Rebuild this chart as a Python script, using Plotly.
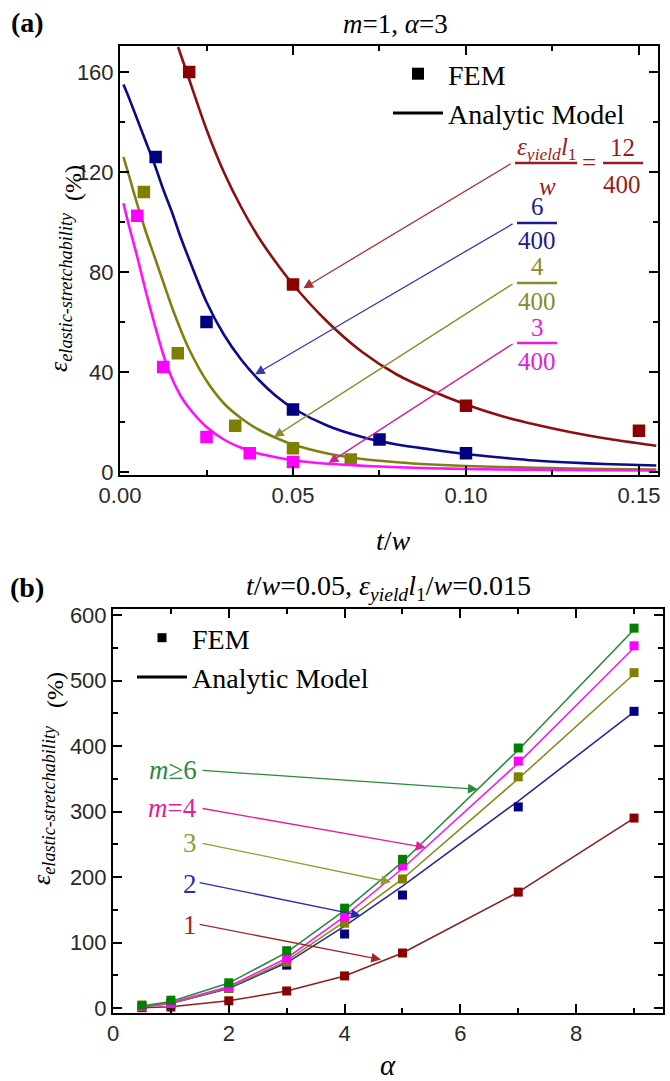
import plotly.graph_objects as go

W, H = 670, 1081

# ---------------- panel (a): stretchability vs t/w (m=1, alpha=3) ----------------
# FEM results for eps_yield*l1/w = 12/400, 6/400, 4/400, 3/400
tw_fem_12 = [0.02, 0.05, 0.10, 0.15]
eps_fem_12 = [160, 75, 26.5, 16.5]
tw_fem_6 = [0.0103, 0.025, 0.05, 0.075, 0.10]
eps_fem_6 = [126, 60, 25, 13, 7.5]
tw_fem_4 = [0.0069, 0.0167, 0.0333, 0.05, 0.0667]
eps_fem_4 = [112, 47.5, 18.5, 9.5, 5]
tw_fem_3 = [0.005, 0.0125, 0.025, 0.0375, 0.05]
eps_fem_3 = [102.5, 42, 14, 7.5, 4]

# analytic model curves
tw_model_12 = [0.0168, 0.02, 0.025, 0.03, 0.035, 0.04, 0.045, 0.05, 0.06, 0.07,
               0.08, 0.09, 0.10, 0.11, 0.12, 0.13, 0.14, 0.155]
eps_model_12 = [170, 157, 137, 120, 106, 94, 84, 75, 60, 48,
                39, 32.5, 27, 22.5, 19, 16, 13.5, 10.5]
tw_model = [0.001, 0.0025, 0.005, 0.0075, 0.01, 0.0125, 0.015, 0.0175, 0.02, 0.025,
            0.03, 0.035, 0.04, 0.045, 0.05, 0.06, 0.07, 0.08, 0.09, 0.10,
            0.11, 0.12, 0.13, 0.14, 0.155]
eps_model_6 = [155, 150, 141, 132, 123, 113, 104, 94, 85, 68,
               55, 45, 37, 30.5, 25.5, 18.5, 14, 11, 9, 7.2,
               5.8, 4.6, 3.8, 3.2, 2.6]
eps_model_4 = [126, 119, 107, 96, 86, 76, 66, 57, 49, 36.5,
               27.5, 21.5, 17, 13.7, 11, 7.4, 5.2, 3.9, 3, 2.4,
               2, 1.7, 1.4, 1.2, 1]
eps_model_3 = [107.5, 99, 86, 72, 59, 47, 37.5, 30.5, 25.5, 18,
               13, 9.7, 7.4, 5.9, 4.7, 3.3, 2.5, 1.9, 1.5, 1.2,
               1, 0.9, 0.8, 0.7, 0.6]

# ---------------- panel (b): stretchability vs alpha ----------------
alpha = [0.5, 1, 2, 3, 4, 5, 7, 9]
fem_m1 = [0.5, 1.5, 11, 26, 49, 84, 177, 290]
fem_m2 = [2, 6, 30, 65.5, 113, 172.5, 307, 453]
fem_m3 = [2, 7, 30, 70, 129.5, 197, 353, 512]
fem_m4 = [3, 8, 33, 76, 139, 217, 377, 553]
fem_m6 = [4.5, 12, 38.5, 87.5, 152.5, 227, 397, 580]
model_m1 = [0.5, 2, 11, 26, 49, 84, 177, 290]
model_m2 = [2, 7, 30, 69, 125, 186, 316, 452]
model_m3 = [2, 7, 31, 72, 132, 197, 350, 510]
model_m4 = [2.5, 8, 33, 76, 140, 213, 374, 550]
model_m6 = [3, 10, 38, 85, 149, 223, 394, 578]

SERIF = "Liberation Serif"
SANS = "Liberation Sans"


def px(x):
    return x / W


def py(y):
    return 1 - y / H


fig = go.Figure()

# panel (a) traces
series_a = [
    (tw_fem_12, eps_fem_12, tw_model_12, eps_model_12, "#8b0000", "#8b1010"),
    (tw_fem_6, eps_fem_6, tw_model, eps_model_6, "#000080", "#0a0a8a"),
    (tw_fem_4, eps_fem_4, tw_model, eps_model_4, "#808000", "#808010"),
    (tw_fem_3, eps_fem_3, tw_model, eps_model_3, "#ff00ff", "#ff10ff"),
]
for xf, yf, xm, ym, mc, lc in series_a:
    fig.add_trace(go.Scatter(x=xm, y=ym, mode="lines", line=dict(color=lc, width=2.6, shape="spline", smoothing=0.8),
                             showlegend=False, xaxis="x", yaxis="y", cliponaxis=True))
    fig.add_trace(go.Scatter(x=xf, y=yf, mode="markers", marker=dict(symbol="square", size=12.5, color=mc),
                             showlegend=False, xaxis="x", yaxis="y"))

# panel (b) traces
series_b = [
    (fem_m1, model_m1, "#8b0000", "#8b2020"),
    (fem_m2, model_m2, "#000080", "#2a2a90"),
    (fem_m3, model_m3, "#808000", "#8a8a20"),
    (fem_m4, model_m4, "#ff00ff", "#f020f0"),
    (fem_m6, model_m6, "#008000", "#2a8a3a"),
]
for yf, ym, mc, lc in series_b:
    fig.add_trace(go.Scatter(x=alpha, y=ym, mode="lines", line=dict(color=lc, width=1.6),
                             showlegend=False, xaxis="x2", yaxis="y2"))
    fig.add_trace(go.Scatter(x=alpha, y=yf, mode="markers", marker=dict(symbol="square", size=9, color=mc),
                             showlegend=False, xaxis="x2", yaxis="y2"))

# legend entries
fig.add_trace(go.Scatter(x=[None], y=[None], mode="markers", name="FEM",
                         marker=dict(symbol="square", size=12, color="black"), legend="legend", xaxis="x", yaxis="y"))
fig.add_trace(go.Scatter(x=[None], y=[None], mode="lines", name="Analytic Model",
                         line=dict(color="black", width=3), legend="legend", xaxis="x", yaxis="y"))
fig.add_trace(go.Scatter(x=[None], y=[None], mode="markers", name="FEM",
                         marker=dict(symbol="square", size=9, color="black"), legend="legend2", xaxis="x2", yaxis="y2"))
fig.add_trace(go.Scatter(x=[None], y=[None], mode="lines", name="Analytic Model",
                         line=dict(color="black", width=3), legend="legend2", xaxis="x2", yaxis="y2"))

axis_common = dict(showline=True, linewidth=2, linecolor="black", mirror="ticks", ticks="inside",
                   ticklen=9, tickwidth=2, tickcolor="black", showgrid=False, zeroline=False,
                   automargin=False, tickfont=dict(family=SANS, size=22, color="#2a2a2a"))
minor_common = dict(ticks="inside", ticklen=5, tickwidth=1.5, tickcolor="black")

fig.update_layout(
    width=W, height=H, margin=dict(l=0, r=0, t=0, b=0, autoexpand=False),
    plot_bgcolor="white", paper_bgcolor="white",
    xaxis=dict(domain=[px(120), px(658)], range=[0, 0.1555], anchor="y", tickvals=[0, 0.05, 0.10, 0.15],
               ticktext=["0.00", "0.05", "0.10", "0.15"], minor=dict(dtick=0.025, tick0=0, **minor_common),
               **axis_common),
    yaxis=dict(domain=[py(475), py(46)], range=[-1.2, 170.4], anchor="x", tickvals=[0, 40, 80, 120, 160],
               minor=dict(dtick=20, tick0=0, **minor_common), **axis_common),
    xaxis2=dict(domain=[px(113), px(663)], range=[0, 9.5], anchor="y2", tickvals=[0, 2, 4, 6, 8],
                minor=dict(dtick=1, tick0=0, **minor_common), **axis_common),
    yaxis2=dict(domain=[py(1013), py(609)], range=[-7.6, 609.2], anchor="x2",
                tickvals=[0, 100, 200, 300, 400, 500, 600],
                minor=dict(dtick=50, tick0=0, **minor_common), **axis_common),
    legend=dict(x=px(388), y=py(49), xanchor="left", yanchor="top", bgcolor="rgba(0,0,0,0)",
                font=dict(family=SERIF, size=28, color="black"), tracegroupgap=0, itemwidth=50),
    legend2=dict(x=px(132), y=py(613), xanchor="left", yanchor="top", bgcolor="rgba(0,0,0,0)",
                 font=dict(family=SERIF, size=28, color="black"), tracegroupgap=0, itemwidth=50),
)

ann = []


def text(x, y, s, size=24, color="black", angle=0, xanchor="center", family=SERIF):
    ann.append(dict(x=px(x), y=py(y), xref="paper", yref="paper", text=s, showarrow=False,
                    font=dict(family=family, size=size, color=color), textangle=angle,
                    xanchor=xanchor, yanchor="middle"))


# panel labels and titles
text(27, 22, "<b>(a)</b>", size=28)
text(395, 24, "<i>m</i>=1, <i>α</i>=3", size=27)
text(27, 587, "<b>(b)</b>", size=28)
text(388, 587, "<i>t</i>/<i>w</i>=0.05, <i>ε</i><sub><i>yield</i></sub><i>l</i><sub>1</sub>/<i>w</i>=0.015", size=28)

# axis titles
text(393, 540, "<i>t</i>/<i>w</i>", size=28)
text(388, 1065, "<i>α</i>", size=29)
text(60, 292, "<i>ε</i><sub><i>elastic-stretchability</i></sub>", size=26, angle=-90)
text(73, 183, "(%)", size=24, angle=-90)
text(43, 805, "<i>ε</i><sub><i>elastic-stretchability</i></sub>", size=26, angle=-90)
text(55, 690, "(%)", size=24, angle=-90)

# fraction labels in panel (a)
RED, BLUE, OLIVE, MAG = "#9b1c1c", "#1c1c8c", "#8a8a2a", "#e020e0"
text(547, 149, "<i>ε</i><sub><i>yield</i></sub><i>l</i><sub>1</sub>", size=25, color=RED)
text(547, 186, "<i>w</i>", size=25, color=RED)
text(589, 162, "=", size=25, color=RED)
text(622, 148, "12", size=25, color=RED)
text(622, 184, "400", size=25, color=RED)
text(537, 206, "6", size=25, color=BLUE)
text(537, 241, "400", size=25, color=BLUE)
text(537, 267, "4", size=25, color=OLIVE)
text(537, 301, "400", size=25, color=OLIVE)
text(537, 327, "3", size=25, color=MAG)
text(537, 362, "400", size=25, color=MAG)

shapes = []
for x0, x1, y, c in [(515, 577, 163, RED), (603, 643, 163, RED), (517, 557, 223, BLUE),
                     (517, 557, 283, OLIVE), (517, 557, 343, MAG)]:
    shapes.append(dict(type="line", xref="paper", yref="paper", x0=px(x0), x1=px(x1), y0=py(y), y1=py(y),
                       line=dict(color=c, width=2.5)))

# arrows in panel (a): (head x, head y, tail x, tail y, colour)
arrows_a = [
    (0.053, 73.5, 0.1133, 123.6, "#a83232"),
    (0.039, 39.0, 0.1139, 99.6, "#3a3aaa"),
    (0.0445, 14.0, 0.1139, 75.6, "#8c8c2a"),
    (0.0603, 3.6, 0.1139, 51.6, "#d0209a"),
]
for hx, hy, tx, ty, c in arrows_a:
    ann.append(dict(x=hx, y=hy, ax=tx, ay=ty, xref="x", yref="y", axref="x", ayref="y", text="",
                    showarrow=True, arrowhead=2, arrowsize=1.5, arrowwidth=1.3, arrowcolor=c))

# labels and arrows in panel (b)
labels_b = [
    (770, "<i>m</i>≥6", "#2a8a3a", (6.3, 334, 1.52, 363)),
    (808, "<i>m</i>=4", "#e0209a", (5.4, 245, 1.52, 305)),
    (843, "3", "#9a9a30", (4.8, 192, 1.52, 252)),
    (884, "2", "#2a2ab0", (4.28, 141, 1.47, 192)),
    (925, "1", "#9a2a2a", (4.63, 74, 1.47, 128)),
]
for ypix, s, c, (hx, hy, tx, ty) in labels_b:
    text(199, ypix, s, size=27, color=c, xanchor="right")
    ann.append(dict(x=hx, y=hy, ax=tx, ay=ty, xref="x2", yref="y2", axref="x2", ayref="y2", text="",
                    showarrow=True, arrowhead=2, arrowsize=1.5, arrowwidth=1.3, arrowcolor=c))

fig.update_layout(annotations=ann, shapes=shapes)
fig.write_html("out.html")
